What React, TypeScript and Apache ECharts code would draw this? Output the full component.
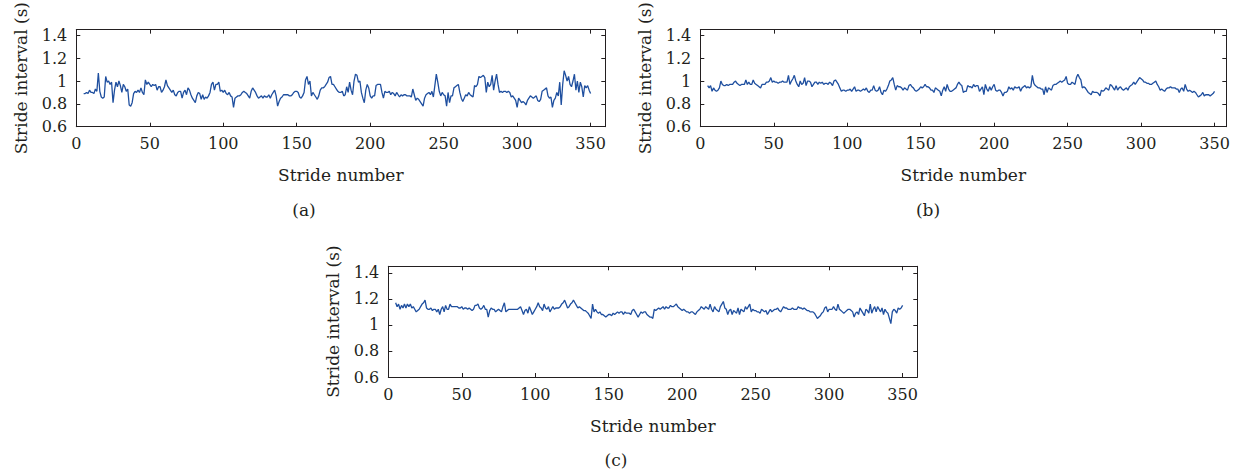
import React, { useEffect, useRef } from "react";
import * as echarts from "echarts";

const STRIDE_START = 5;
const X_TICKS = [0, 50, 100, 150, 200, 250, 300, 350];
const Y_TICKS = [0.6, 0.8, 1, 1.2, 1.4];
const X_TITLE = "Stride number";
const Y_TITLE = "Stride interval (s)";
const PANEL_LABELS = ["(a)", "(b)", "(c)"];

// Stride intervals (s), strides 5..350
const PANEL_A = [
  0.89,0.89,0.90,0.89,0.92,0.90,0.90,0.89,0.93,0.91,
  1.07,0.91,0.86,0.85,0.86,1.04,0.99,1.00,0.97,0.99,
  0.81,0.92,0.99,0.95,1.00,0.96,0.90,0.97,0.95,0.91,
  0.93,0.79,0.78,0.81,0.89,0.91,0.90,0.92,0.90,0.94,
  0.90,0.88,1.01,0.97,0.99,0.97,0.95,0.97,0.96,0.97,
  0.92,0.95,0.95,0.90,0.92,0.95,1.01,0.96,0.94,0.92,
  0.90,0.92,0.88,0.87,0.90,0.91,0.91,0.85,0.90,0.92,
  0.88,0.94,0.92,0.88,0.85,0.83,0.81,0.87,0.90,0.89,
  0.84,0.88,0.84,0.86,0.85,0.87,0.90,0.97,0.99,0.92,
  0.97,0.97,0.99,0.91,0.92,0.90,0.92,0.89,0.88,0.90,
  0.87,0.86,0.77,0.85,0.86,0.87,0.87,0.88,0.90,0.91,
  0.90,0.89,0.87,0.85,0.91,0.94,0.92,0.90,0.87,0.85,
  0.86,0.87,0.85,0.87,0.86,0.86,0.88,0.85,0.88,0.90,
  0.92,0.87,0.78,0.82,0.85,0.86,0.88,0.88,0.88,0.88,
  0.87,0.87,0.88,0.90,0.91,0.91,0.90,0.86,0.85,0.87,
  0.90,1.01,1.04,0.97,1.00,0.87,0.90,0.88,0.86,0.84,
  0.87,0.92,0.94,0.94,0.95,0.97,0.99,1.03,1.04,0.97,
  0.97,0.95,0.93,0.91,0.90,0.90,0.91,0.87,0.88,0.95,
  0.90,0.99,0.92,0.88,1.00,1.06,1.05,0.99,1.00,0.90,
  0.85,0.81,0.92,0.97,0.94,0.87,0.85,0.87,0.87,0.96,
  0.97,0.97,0.97,0.90,0.85,0.91,0.90,0.90,0.91,0.88,
  0.90,0.89,0.87,0.90,0.88,0.86,0.88,0.87,0.88,0.88,
  0.87,0.87,0.87,0.86,0.93,0.88,0.83,0.85,0.84,0.82,
  0.80,0.78,0.85,0.88,0.89,0.90,0.88,0.91,0.86,0.96,
  1.06,0.99,0.91,0.87,0.90,0.88,0.87,0.78,0.90,0.81,
  0.87,0.87,0.94,0.95,0.96,0.97,0.90,0.85,0.82,0.85,
  0.88,0.87,0.90,0.88,0.87,0.86,0.96,0.95,0.97,1.04,
  1.03,1.04,1.05,1.03,0.90,0.99,0.95,0.97,1.05,0.92,
  1.00,1.06,0.97,0.90,0.91,0.90,0.91,0.91,0.90,0.91,
  0.90,0.86,0.87,0.85,0.83,0.77,0.85,0.83,0.81,0.82,
  0.81,0.79,0.83,0.85,0.87,0.86,0.85,0.86,0.87,0.83,
  0.82,0.84,0.91,0.92,0.93,0.94,0.87,0.85,0.86,0.77,
  0.83,0.85,0.90,0.87,0.99,0.79,0.97,1.09,1.05,1.00,
  1.04,0.97,0.95,1.00,1.06,0.92,1.00,0.90,0.99,0.95,
  0.86,0.96,0.94,0.96,0.92,0.89,
];

const PANEL_B = [
  0.96,0.94,0.96,0.91,0.94,0.92,0.91,0.92,0.94,1.00,
  0.97,0.96,0.96,0.97,0.96,0.97,0.97,0.97,0.99,1.00,
  0.98,0.97,0.96,0.97,0.97,0.97,1.01,0.97,0.99,0.97,
  0.97,1.01,0.98,0.97,0.96,0.95,0.94,0.97,0.97,0.97,
  0.99,0.99,1.00,1.03,0.99,1.00,0.99,0.99,0.98,0.99,
  0.99,1.00,0.99,0.99,0.99,1.05,0.97,1.00,1.02,1.05,
  1.00,0.97,0.95,1.00,0.97,0.98,1.03,0.96,1.00,1.00,
  0.99,0.95,0.97,0.99,0.99,0.97,0.99,0.98,0.99,0.97,
  0.98,0.98,0.97,0.99,0.98,0.96,1.00,1.01,0.99,0.97,
  0.94,0.91,0.92,0.92,0.91,0.92,0.92,0.93,0.91,0.93,
  0.95,0.91,0.92,0.92,0.91,0.92,0.93,0.92,0.94,0.91,
  0.90,0.92,0.92,0.96,0.92,0.91,0.92,0.95,0.90,0.88,
  0.92,0.91,0.93,0.96,1.00,1.01,1.03,0.97,0.92,0.96,
  0.95,0.95,0.94,0.92,0.94,0.93,0.92,0.96,0.97,0.95,
  0.94,0.92,0.91,0.92,0.93,0.95,0.94,0.95,0.97,0.95,
  0.95,0.94,0.92,0.92,0.90,0.94,0.93,0.92,0.91,0.87,
  0.92,0.95,0.91,0.97,0.93,0.91,0.91,0.92,0.93,0.94,
  0.97,0.99,0.97,0.96,0.90,0.91,0.91,0.96,0.95,0.95,
  0.94,0.97,0.95,0.96,0.96,0.91,0.93,0.95,0.88,0.97,
  0.93,0.91,0.95,0.92,0.95,0.97,0.92,0.91,0.92,0.92,
  0.90,0.87,0.90,0.90,0.91,0.95,0.93,0.94,0.92,0.95,
  0.94,0.94,0.95,0.91,0.94,0.95,0.96,0.94,0.95,0.94,
  0.95,1.05,0.98,0.96,0.95,0.94,0.94,0.93,0.93,0.88,
  0.95,0.90,0.94,0.93,0.92,0.96,0.97,0.97,0.98,0.99,
  1.00,0.99,1.00,1.01,1.04,0.98,0.97,0.97,0.99,0.98,
  0.97,1.03,1.06,1.03,1.01,0.94,0.95,0.94,0.92,0.90,
  0.89,0.88,0.91,0.90,0.90,0.90,0.89,0.87,0.92,0.91,
  0.92,0.94,0.93,0.92,0.97,0.96,0.94,0.92,0.96,0.92,
  0.94,0.95,0.93,0.92,0.93,0.94,0.92,0.95,0.96,0.97,
  0.99,0.97,0.99,1.01,1.03,1.02,1.01,0.99,0.99,0.98,
  0.98,0.97,0.97,0.98,0.99,1.00,0.97,0.95,0.92,0.93,
  0.92,0.91,0.93,0.94,0.94,0.95,0.94,0.94,0.94,0.93,
  0.93,0.90,0.93,0.94,0.91,0.97,0.93,0.91,0.92,0.91,
  0.90,0.91,0.90,0.88,0.86,0.87,0.88,0.90,0.87,0.88,
  0.88,0.88,0.87,0.88,0.89,0.91,
];

const PANEL_C = [
  1.17,1.14,1.16,1.12,1.15,1.13,1.16,1.13,1.16,1.14,
  1.16,1.13,1.14,1.12,1.10,1.11,1.12,1.14,1.16,1.17,
  1.19,1.13,1.12,1.12,1.13,1.11,1.12,1.12,1.10,1.12,
  1.08,1.12,1.14,1.10,1.15,1.12,1.12,1.16,1.14,1.14,
  1.14,1.14,1.14,1.13,1.13,1.14,1.12,1.13,1.13,1.12,
  1.13,1.12,1.11,1.12,1.15,1.15,1.16,1.13,1.12,1.13,
  1.15,1.12,1.12,1.06,1.11,1.13,1.12,1.12,1.10,1.11,
  1.12,1.11,1.10,1.14,1.17,1.10,1.11,1.12,1.12,1.12,
  1.12,1.12,1.12,1.12,1.13,1.14,1.11,1.08,1.11,1.12,
  1.09,1.14,1.11,1.08,1.10,1.12,1.14,1.17,1.14,1.13,
  1.11,1.16,1.13,1.12,1.14,1.10,1.12,1.14,1.12,1.13,
  1.13,1.13,1.14,1.16,1.17,1.19,1.16,1.13,1.14,1.16,
  1.17,1.19,1.17,1.15,1.13,1.14,1.13,1.12,1.11,1.11,
  1.10,1.09,1.07,1.05,1.16,1.10,1.12,1.10,1.09,1.10,
  1.08,1.08,1.07,1.06,1.07,1.08,1.08,1.07,1.09,1.08,
  1.09,1.10,1.09,1.10,1.10,1.08,1.10,1.09,1.09,1.09,
  1.08,1.11,1.12,1.10,1.08,1.06,1.08,1.10,1.09,1.10,
  1.10,1.08,1.07,1.06,1.06,1.05,1.12,1.11,1.12,1.13,
  1.12,1.13,1.14,1.12,1.14,1.13,1.13,1.15,1.14,1.14,
  1.15,1.16,1.14,1.13,1.12,1.11,1.12,1.11,1.10,1.10,
  1.09,1.10,1.10,1.09,1.08,1.10,1.11,1.12,1.14,1.13,
  1.12,1.14,1.13,1.12,1.16,1.12,1.10,1.14,1.12,1.11,
  1.10,1.14,1.16,1.18,1.13,1.12,1.08,1.11,1.12,1.08,
  1.11,1.10,1.09,1.13,1.08,1.12,1.11,1.10,1.14,1.12,
  1.14,1.16,1.10,1.12,1.11,1.11,1.10,1.10,1.09,1.12,
  1.11,1.10,1.11,1.08,1.10,1.12,1.10,1.11,1.12,1.12,
  1.13,1.11,1.10,1.12,1.14,1.13,1.13,1.12,1.12,1.12,
  1.13,1.12,1.12,1.12,1.14,1.13,1.13,1.12,1.13,1.12,
  1.11,1.11,1.10,1.10,1.10,1.09,1.07,1.05,1.06,1.07,
  1.09,1.10,1.13,1.14,1.10,1.12,1.12,1.12,1.14,1.12,
  1.11,1.16,1.12,1.11,1.10,1.09,1.10,1.11,1.12,1.12,
  1.11,1.10,1.06,1.09,1.10,1.08,1.13,1.11,1.09,1.07,
  1.12,1.11,1.09,1.16,1.09,1.12,1.14,1.10,1.14,1.12,
  1.10,1.13,1.08,1.12,1.10,1.09,1.05,1.01,1.10,1.12,
  1.11,1.09,1.13,1.12,1.13,1.15,
];

const FONT = "DejaVu Serif";
const INK = "#231f20";
const LINE_COLOR = "#1f4f9f";

const PANELS = [
  { values: PANEL_A, left: 76.3, top: 16.3, width: 529, height: 110.4, xMax: 360, labelX: 304, labelY: 210 },
  { values: PANEL_B, left: 700.3, top: 16.3, width: 526, height: 110.4, xMax: 358, labelX: 928, labelY: 210 },
  { values: PANEL_C, left: 388.3, top: 266.3, width: 529, height: 110.7, xMax: 360, labelX: 616, labelY: 460 },
];

function buildOption() {
  const grid: any[] = [];
  const xAxis: any[] = [];
  const yAxis: any[] = [];
  const series: any[] = [];
  const graphic: any[] = [];
  const lineStyle = { color: INK, width: 1 };
  const tickLabel = { fontFamily: FONT, fontSize: 16, color: INK };
  const titleStyle = { fontFamily: FONT, fontSize: 17, color: INK };

  PANELS.forEach((p, i) => {
    grid.push({ left: p.left, top: p.top, width: p.width, height: p.height, containLabel: false });
    xAxis.push({
      gridIndex: i, type: "value", position: "bottom", min: 0, max: p.xMax,
      axisLine: { show: true, onZero: false, lineStyle },
      axisTick: { show: true, inside: true, length: 4, customValues: X_TICKS, lineStyle },
      axisLabel: { show: true, customValues: X_TICKS, margin: 9, ...tickLabel },
      splitLine: { show: false },
      name: X_TITLE, nameLocation: "middle", nameGap: 40,
      nameTextStyle: titleStyle,
    });
    xAxis.push({
      gridIndex: i, type: "value", position: "top", min: 0, max: p.xMax,
      axisLine: { show: true, onZero: false, lineStyle },
      axisTick: { show: true, inside: true, length: 4, customValues: X_TICKS, lineStyle },
      axisLabel: { show: false },
      splitLine: { show: false },
    });
    yAxis.push({
      gridIndex: i, type: "value", position: "left", min: 0.6, max: 1.45,
      axisLine: { show: true, onZero: false, lineStyle },
      axisTick: { show: true, inside: true, length: 4, customValues: Y_TICKS, lineStyle },
      axisLabel: { show: true, customValues: Y_TICKS, margin: 9, formatter: (v: number) => String(+v.toFixed(1)), ...tickLabel },
      splitLine: { show: false },
      name: Y_TITLE, nameLocation: "middle", nameGap: 47,
      nameTextStyle: titleStyle,
    });
    yAxis.push({
      gridIndex: i, type: "value", position: "right", min: 0.6, max: 1.45,
      axisLine: { show: true, onZero: false, lineStyle },
      axisTick: { show: true, inside: true, length: 4, customValues: Y_TICKS, lineStyle },
      axisLabel: { show: false },
      splitLine: { show: false },
    });
    series.push({
      type: "line", xAxisIndex: 2 * i, yAxisIndex: 2 * i,
      data: p.values.map((v, k) => [STRIDE_START + k, v]),
      showSymbol: false, symbol: "none",
      lineStyle: { color: LINE_COLOR, width: 1.3 },
      itemStyle: { color: LINE_COLOR },
    });
    graphic.push({
      type: "text", x: p.labelX, y: p.labelY,
      style: {
        text: PANEL_LABELS[i], fontFamily: FONT, fontSize: 17, fill: INK,
        align: "center", verticalAlign: "middle", textAlign: "center", textVerticalAlign: "middle",
      },
    });
  });

  return { animation: false, backgroundColor: "#ffffff", grid, xAxis, yAxis, series, graphic };
}

export default function App() {
  const ref = useRef<HTMLDivElement>(null);
  useEffect(() => {
    if (!ref.current) return;
    const chart = echarts.init(ref.current, undefined, { renderer: "svg" });
    chart.setOption(buildOption() as any);
    return () => chart.dispose();
  }, []);
  return (
    <div
      ref={ref}
      style={{ position: "absolute", left: 0, top: 0, width: 1237, height: 474, background: "#fff" }}
    />
  );
}
